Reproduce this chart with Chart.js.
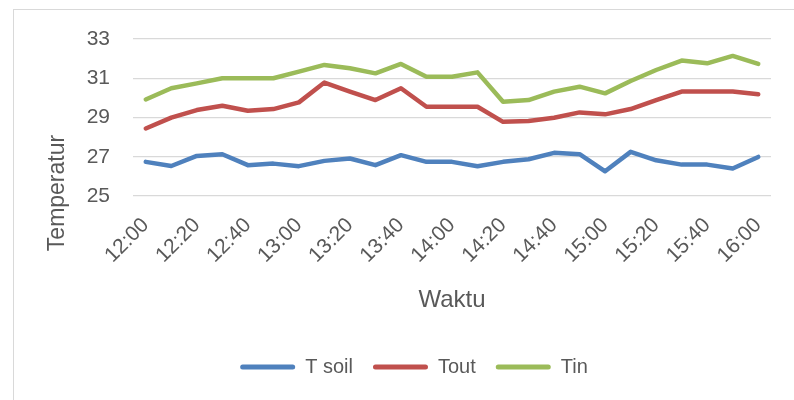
<!DOCTYPE html>
<html>
<head>
<meta charset="utf-8">
<script src="https://cdn.jsdelivr.net/npm/chart.js@4/dist/chart.umd.min.js"></script>
<style>
  html, body { margin: 0; padding: 0; background: #fff; overflow: hidden; }
  #wrap { position: relative; width: 794px; height: 400px; overflow: hidden; }
  #frame { position: absolute; left: 13px; top: 9px; width: 900px; height: 500px; border: 1px solid #d9d9d9; }
  #chart { position: absolute; left: 0; top: 0; }
</style>
</head>
<body>
<div id="wrap">
  <div id="frame"></div>
  <canvas id="chart" width="794" height="400"></canvas>
</div>
<script>
  const times = [
    "12:00", "12:10", "12:20", "12:30", "12:40", "12:50",
    "13:00", "13:10", "13:20", "13:30", "13:40", "13:50",
    "14:00", "14:10", "14:20", "14:30", "14:40", "14:50",
    "15:00", "15:10", "15:20", "15:30", "15:40", "15:50", "16:00",
  ];
  const tSoil = [26.74, 26.53, 27.04, 27.13, 26.57, 26.65, 26.52, 26.79, 26.91, 26.57, 27.08, 26.74, 26.74,
    26.52, 26.74, 26.87, 27.20, 27.13, 26.26, 27.25, 26.82, 26.60, 26.60, 26.40, 26.99];
  const tOut = [28.44, 28.99, 29.38, 29.60, 29.34, 29.43, 29.77, 30.78, 30.32, 29.89, 30.49, 29.55, 29.55,
    29.55, 28.78, 28.82, 28.99, 29.26, 29.16, 29.43, 29.89, 30.32, 30.32, 30.32, 30.18];
  const tIn = [29.92, 30.49, 30.74, 31.00, 31.00, 31.00, 31.34, 31.68, 31.51, 31.25, 31.73, 31.08, 31.08,
    31.30, 29.80, 29.89, 30.32, 30.57, 30.23, 30.86, 31.42, 31.90, 31.76, 32.14, 31.73];
  const seriesNames = ["T soil", "Tout", "Tin"];
  const yTitle = "Temperatur";
  const xTitle = "Waktu";

  const FONT = "'Liberation Sans', Arial, sans-serif";
  const TEXT = "#595959";

  // y axis title is placed by hand, Excel centres it lower than Chart.js would
  const yTitlePlugin = {
    id: "yTitle",
    afterDraw(chart) {
      const ctx = chart.ctx;
      ctx.save();
      ctx.translate(58, 193);
      ctx.rotate(-Math.PI / 2);
      ctx.font = `23px ${FONT}`;
      ctx.fillStyle = TEXT;
      ctx.textAlign = "center";
      ctx.textBaseline = "middle";
      ctx.fillText(yTitle, 0, 0);
      ctx.restore();
    },
  };

  function line(label, data, color) {
    return {
      label,
      data,
      borderColor: color,
      backgroundColor: color,
      borderWidth: 4.5,
      borderJoinStyle: "round",
      borderCapStyle: "round",
      pointRadius: 0,
      tension: 0,
      fill: false,
    };
  }

  new Chart(document.getElementById("chart"), {
    type: "line",
    data: {
      labels: times,
      datasets: [
        line(seriesNames[0], tSoil, "#4f81bd"),
        line(seriesNames[1], tOut, "#c0504d"),
        line(seriesNames[2], tIn, "#9bbb59"),
      ],
    },
    options: {
      responsive: false,
      animation: false,
      devicePixelRatio: 1,
      layout: { padding: { left: 57, right: 23, top: 39, bottom: 13 } },
      plugins: {
        tooltip: { enabled: false },
        legend: {
          position: "bottom",
          labels: {
            color: TEXT,
            font: { family: FONT, size: 20 },
            boxWidth: 55,
            boxHeight: 5,
            padding: 20,
            useBorderRadius: true,
            borderRadius: 2.5,
            generateLabels(chart) {
              const items = Chart.defaults.plugins.legend.labels.generateLabels(chart);
              items.forEach((it) => { it.lineWidth = 0; });
              return items;
            },
          },
        },
      },
      scales: {
        x: {
          offset: true,
          grid: { display: false, drawTicks: false },
          border: { display: false },
          ticks: {
            autoSkip: false,
            maxRotation: 45,
            minRotation: 45,
            padding: 17,
            color: TEXT,
            font: { family: FONT, size: 21 },
            callback(value, index) {
              return index % 2 === 0 ? times[index] : "";
            },
          },
          title: {
            display: true,
            text: xTitle,
            color: TEXT,
            font: { family: FONT, size: 24 },
            padding: { top: 0, bottom: 22 },
          },
          afterFit(scale) { scale.height = 141; },
        },
        y: {
          min: 25,
          max: 33,
          grid: { color: "#d9d9d9", lineWidth: 1.3, drawTicks: false },
          border: { display: false },
          ticks: {
            stepSize: 2,
            padding: 23,
            color: TEXT,
            font: { family: FONT, size: 21 },
          },
          afterFit(scale) { scale.width = 76; },
        },
      },
    },
    plugins: [yTitlePlugin],
  });
</script>
</body>
</html>
